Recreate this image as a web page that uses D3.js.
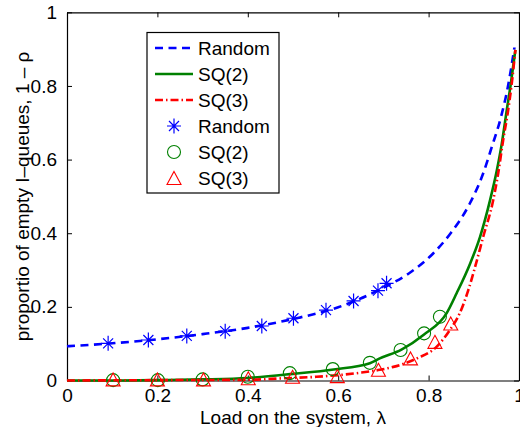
<!DOCTYPE html>
<html>
<head>
<meta charset="utf-8">
<script src="https://cdn.jsdelivr.net/npm/d3@7"></script>
<style>
  body { margin: 0; background: #fff; }
  svg text { font-family: "Liberation Sans", Arial, Helvetica, sans-serif; fill: #000; }
</style>
</head>
<body>
<svg width="520" height="427"></svg>
<script>
// analytic curves
var randomCurveX = [0, 0.1, 0.2, 0.3, 0.4, 0.5, 0.6, 0.7, 0.76, 0.81, 0.85, 0.89, 0.92, 0.94, 0.96, 0.975, 0.99];
var randomCurveY = [0.093, 0.101, 0.112, 0.126, 0.143, 0.167, 0.199, 0.252, 0.294, 0.345, 0.402, 0.478, 0.56, 0.635, 0.715, 0.795, 0.905];

var sq2CurveX = [0, 0.1, 0.2, 0.3, 0.4, 0.5, 0.59, 0.67, 0.692, 0.74, 0.79, 0.84, 0.862, 0.892, 0.914, 0.936, 0.951, 0.962, 0.973, 0.982, 0.992];
var sq2CurveY = [0, 0, 0.001, 0.003, 0.007, 0.018, 0.030, 0.047, 0.060, 0.084, 0.125, 0.183, 0.237, 0.318, 0.391, 0.49, 0.571, 0.644, 0.735, 0.807, 0.898];

var sq3CurveX = [0, 0.2, 0.4, 0.478, 0.552, 0.648, 0.692, 0.722, 0.774, 0.818, 0.847, 0.869, 0.888, 0.903, 0.921, 0.943, 0.954, 0.965, 0.975, 0.984, 0.992];
var sq3CurveY = [0, 0.001, 0.002, 0.006, 0.010, 0.021, 0.029, 0.037, 0.060, 0.092, 0.137, 0.183, 0.246, 0.309, 0.391, 0.490, 0.563, 0.653, 0.726, 0.807, 0.898];

// simulation points
var randomSimX = [0.091, 0.180, 0.265, 0.350, 0.431, 0.501, 0.573, 0.634, 0.688, 0.707];
var randomSimY = [0.101, 0.110, 0.121, 0.134, 0.148, 0.169, 0.191, 0.216, 0.244, 0.264];
var sq2SimX = [0.102, 0.201, 0.300, 0.400, 0.493, 0.588, 0.670, 0.738, 0.790, 0.825];
var sq2SimY = [0.001, 0.001, 0.003, 0.010, 0.020, 0.031, 0.048, 0.083, 0.128, 0.173];
var sq3SimX = [0.102, 0.200, 0.302, 0.401, 0.499, 0.598, 0.689, 0.760, 0.814, 0.849];
var sq3SimY = [0.003, 0.003, 0.003, 0.006, 0.010, 0.012, 0.029, 0.060, 0.105, 0.155];

var xTicks = [0, 0.2, 0.4, 0.6, 0.8, 1];
var yTicks = [0, 0.2, 0.4, 0.6, 0.8, 1];
var legendLabels = ["Random", "SQ(2)", "SQ(3)", "Random", "SQ(2)", "SQ(3)"];

var svg = d3.select("svg"),
    margin = {top: 12.3, right: 1, bottom: 46.5, left: 67},
    width = +svg.attr("width") - margin.left - margin.right,
    height = +svg.attr("height") - margin.top - margin.bottom,
    g = svg.append("g").attr("transform", "translate(" + margin.left + "," + margin.top + ")");

var x = d3.scaleLinear().domain([0, 1]).range([0, width]);
var y = d3.scaleLinear().domain([0, 1]).range([height, 0]);

var fmt = function(d) { return d === 0 || d === 1 ? String(d) : d3.format(".1f")(d); };
var fontSize = 19;

// axes, ticks pointing inward on all four sides
var axB = g.append("g").attr("transform", "translate(0," + height + ")")
  .call(d3.axisBottom(x).tickValues(xTicks).tickSizeInner(-5).tickSizeOuter(0).tickPadding(8).tickFormat(fmt));
var axL = g.append("g")
  .call(d3.axisLeft(y).tickValues(yTicks).tickSizeInner(-5).tickSizeOuter(0).tickPadding(10).tickFormat(fmt));
var axT = g.append("g")
  .call(d3.axisTop(x).tickValues(xTicks).tickSizeInner(-5).tickSizeOuter(0).tickFormat(""));
var axR = g.append("g").attr("transform", "translate(" + width + ",0)")
  .call(d3.axisRight(y).tickValues(yTicks).tickSizeInner(-5).tickSizeOuter(0).tickFormat(""));

[axB, axL, axT, axR].forEach(function(a) {
  a.selectAll("path.domain").attr("stroke", "#000").attr("stroke-width", 1.2);
  a.selectAll(".tick line").attr("stroke", "#000");
  a.selectAll("text").attr("font-size", fontSize).attr("font-family", "Liberation Sans, Arial, sans-serif").attr("fill", "#000");
});

// lines
var line = d3.line().x(function(d) { return x(d[0]); }).y(function(d) { return y(d[1]); }).curve(d3.curveMonotoneX);
var zip = function(a, b) { return a.map(function(v, i) { return [v, b[i]]; }); };

var curves = [
  {xs: randomCurveX, ys: randomCurveY, color: "#0000ff", dash: "8,5.5"},
  {xs: sq2CurveX, ys: sq2CurveY, color: "#008000", dash: null},
  {xs: sq3CurveX, ys: sq3CurveY, color: "#ff0000", dash: "8,3,1.5,3"}
];

curves.forEach(function(c) {
  g.append("path")
    .datum(zip(c.xs, c.ys))
    .attr("fill", "none")
    .attr("stroke", c.color)
    .attr("stroke-width", 2.6)
    .attr("stroke-dasharray", c.dash)
    .attr("d", line);
});

// marker shapes
function star(sel, color) {
  sel.append("path")
    .attr("d", "M0,-7.5V7.5M-7,0H7M-5,-5L5,5M-5,5L5,-5")
    .attr("stroke", color).attr("stroke-width", 1.2).attr("fill", "none");
}
function circ(sel, color) {
  sel.append("circle").attr("r", 6.5).attr("stroke", color).attr("stroke-width", 1.1).attr("fill", "none");
}
function tri(sel, color) {
  sel.append("path").attr("d", "M0,-6.5L7,6.5L-7,6.5Z")
    .attr("stroke", color).attr("stroke-width", 1.1).attr("fill", "none");
}

var sims = [
  {xs: randomSimX, ys: randomSimY, color: "#0000ff", shape: star},
  {xs: sq2SimX, ys: sq2SimY, color: "#008000", shape: circ},
  {xs: sq3SimX, ys: sq3SimY, color: "#ff0000", shape: tri}
];

sims.forEach(function(s) {
  g.selectAll(null)
    .data(zip(s.xs, s.ys))
    .enter().append("g")
    .attr("transform", function(d) { return "translate(" + x(d[0]) + "," + y(d[1]) + ")"; })
    .each(function() { s.shape(d3.select(this), s.color); });
});

// axis labels
svg.append("text")
  .attr("x", margin.left + width / 2)
  .attr("y", 424)
  .attr("text-anchor", "middle")
  .attr("font-size", fontSize)
  .text("Load on the system, \u03bb");

svg.append("text")
  .attr("transform", "translate(29," + (margin.top + height / 2) + ") rotate(-90)")
  .attr("text-anchor", "middle")
  .attr("font-size", fontSize)
  .text("proportio of empty I\u2013queues, 1 \u2013 \u03c1");

// legend
var legend = svg.append("g");
legend.append("rect")
  .attr("x", 147).attr("y", 32.5).attr("width", 132).attr("height", 160.5)
  .attr("fill", "#fff").attr("stroke", "#000").attr("stroke-width", 1.2);

var legendItems = legendLabels.map(function(lab, i) {
  return {label: lab, row: i, curve: i < 3 ? curves[i] : null, sim: i >= 3 ? sims[i - 3] : null};
});

legendItems.forEach(function(it) {
  var cy = 48 + it.row * 26;
  if (it.curve) {
    legend.append("line")
      .attr("x1", 155).attr("x2", 193).attr("y1", cy).attr("y2", cy)
      .attr("stroke", it.curve.color).attr("stroke-width", 2.6)
      .attr("stroke-dasharray", it.curve.dash);
  } else {
    var mg = legend.append("g").attr("transform", "translate(174," + cy + ")");
    it.sim.shape(mg, it.sim.color);
  }
  legend.append("text")
    .attr("x", 198).attr("y", cy).attr("dy", "0.36em")
    .attr("font-size", fontSize)
    .text(it.label);
});
</script>
</body>
</html>
